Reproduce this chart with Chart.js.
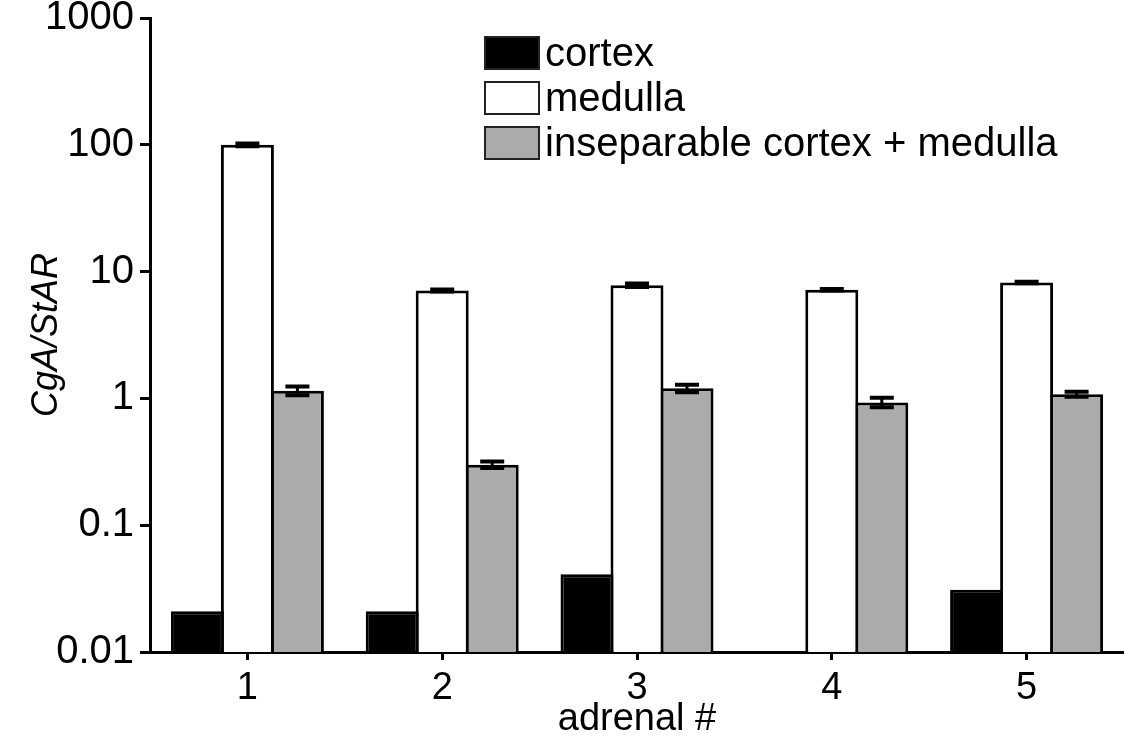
<!DOCTYPE html>
<html>
<head>
<meta charset="utf-8">
<script src="https://cdn.jsdelivr.net/npm/chart.js@4.4.1/dist/chart.umd.min.js"></script>
<style>
  html, body { margin: 0; padding: 0; background: #fff; }
  #wrap { position: relative; width: 1124px; height: 745px; }
  #legend { position: absolute; left: 484px; top: 30px; font-family: "Liberation Sans", Arial, sans-serif; font-size: 40px; color: #000; }
  .row { display: flex; align-items: center; height: 45px; }
  .box { width: 52px; height: 30px; border: 2px solid #222; margin-right: 5px; box-sizing: content-box; }
</style>
</head>
<body>
<div id="wrap">
  <canvas id="myChart" width="1124" height="745"></canvas>
  <div id="legend"></div>
</div>
<script>
// categories
var adrenals = ['1', '2', '3', '4', '5'];
// series values
var cortex = [0.021, 0.021, 0.041, null, 0.031];
var medulla = [100, 7.1, 7.8, 7.2, 8.2];
var medullaErr = [2.5, 0.12, 0.25, 0.1, 0.12];
var mixed = [1.15, 0.3, 1.2, 0.93, 1.08];
var mixedErr = [0.09, 0.018, 0.08, 0.08, 0.05];
// tick labels
var yTicks = [0.01, 0.1, 1, 10, 100, 1000];
var yTickLabels = ['0.01', '0.1', '1', '10', '100', '1000'];

var font = '"Liberation Sans", Arial, sans-serif';

// legend
var legendItems = [
  { label: 'cortex', color: '#000000' },
  { label: 'medulla', color: '#ffffff' },
  { label: 'inseparable cortex + medulla', color: '#ababab' }
];
var legendDiv = document.getElementById('legend');
legendItems.forEach(function (it) {
  var row = document.createElement('div');
  row.className = 'row';
  var box = document.createElement('span');
  box.className = 'box';
  box.style.background = it.color;
  var txt = document.createElement('span');
  txt.textContent = it.label;
  row.appendChild(box);
  row.appendChild(txt);
  legendDiv.appendChild(row);
});

// error bars on top of the bars
var errorBars = {
  id: 'errorBars',
  afterDatasetsDraw: function (chart) {
    var ctx = chart.ctx;
    var y = chart.scales.y;
    chart.data.datasets.forEach(function (ds, di) {
      if (!ds.errors) return;
      var meta = chart.getDatasetMeta(di);
      meta.data.forEach(function (bar, i) {
        var v = ds.data[i];
        var e = ds.errors[i];
        if (v == null || !e) return;
        var top = y.getPixelForValue(v + e);
        var bot = y.getPixelForValue(v - e);
        var half = 12;
        ctx.save();
        ctx.strokeStyle = '#000';
        ctx.lineWidth = 3;
        ctx.beginPath();
        ctx.moveTo(bar.x, top);
        ctx.lineTo(bar.x, bot);
        ctx.stroke();
        ctx.lineWidth = 4;
        ctx.beginPath();
        ctx.moveTo(bar.x - half, top);
        ctx.lineTo(bar.x + half, top);
        ctx.moveTo(bar.x - half, bot);
        ctx.lineTo(bar.x + half, bot);
        ctx.stroke();
        ctx.restore();
      });
    });
  }
};

var ctx = document.getElementById('myChart').getContext('2d');
var chart = new Chart(ctx, {
  type: 'bar',
  data: {
    labels: adrenals,
    datasets: [{
      label: 'cortex',
      data: cortex,
      backgroundColor: '#000000',
      borderColor: '#000000',
      borderWidth: 3
    }, {
      label: 'medulla',
      data: medulla,
      errors: medullaErr,
      backgroundColor: '#ffffff',
      borderColor: '#000000',
      borderWidth: 3
    }, {
      label: 'inseparable cortex + medulla',
      data: mixed,
      errors: mixedErr,
      backgroundColor: '#ababab',
      borderColor: '#000000',
      borderWidth: 3
    }]
  },
  plugins: [errorBars],
  options: {
    responsive: false,
    animation: false,
    layout: { padding: { top: 18, right: 0, left: 0, bottom: 0 } },
    datasets: { bar: { categoryPercentage: 0.77, barPercentage: 1.06 } },
    plugins: {
      legend: { display: false },
      tooltip: { enabled: false }
    },
    scales: {
      x: {
        grid: { display: true, drawOnChartArea: false, offset: false, tickLength: 8, tickWidth: 3, color: '#000' },
        border: { display: true, color: '#000', width: 3 },
        ticks: { color: '#000', padding: 10, font: { family: font, size: 38, lineHeight: 1 } },
        title: { display: true, text: 'adrenal #', color: '#000', padding: { top: 0, bottom: 6 }, font: { family: font, size: 38, lineHeight: 1 } },
        afterFit: function (s) { s.height = 93; s.paddingLeft = 0; s.paddingRight = 0; }
      },
      y: {
        type: 'logarithmic',
        min: 0.01,
        max: 1000,
        afterBuildTicks: function (s) {
          s.ticks = yTicks.map(function (v) { return { value: v, major: true }; });
        },
        grid: { display: true, drawOnChartArea: false, tickLength: 10, tickWidth: 3, color: '#000' },
        border: { display: true, color: '#000', width: 3 },
        ticks: {
          color: '#000', padding: 6, autoSkip: false,
          font: { family: font, size: 40, lineHeight: 1 },
          callback: function (v) {
            var i = yTicks.indexOf(v);
            return i >= 0 ? yTickLabels[i] : '';
          }
        },
        title: { display: true, text: 'CgA/StAR', color: '#000', padding: { top: 29, bottom: 0 }, font: { family: font, size: 36, style: 'italic', lineHeight: 1 } },
        afterFit: function (s) { s.width = 150; s.paddingTop = 0; s.paddingBottom = 0; }
      }
    }
  }
});
</script>
</body>
</html>
